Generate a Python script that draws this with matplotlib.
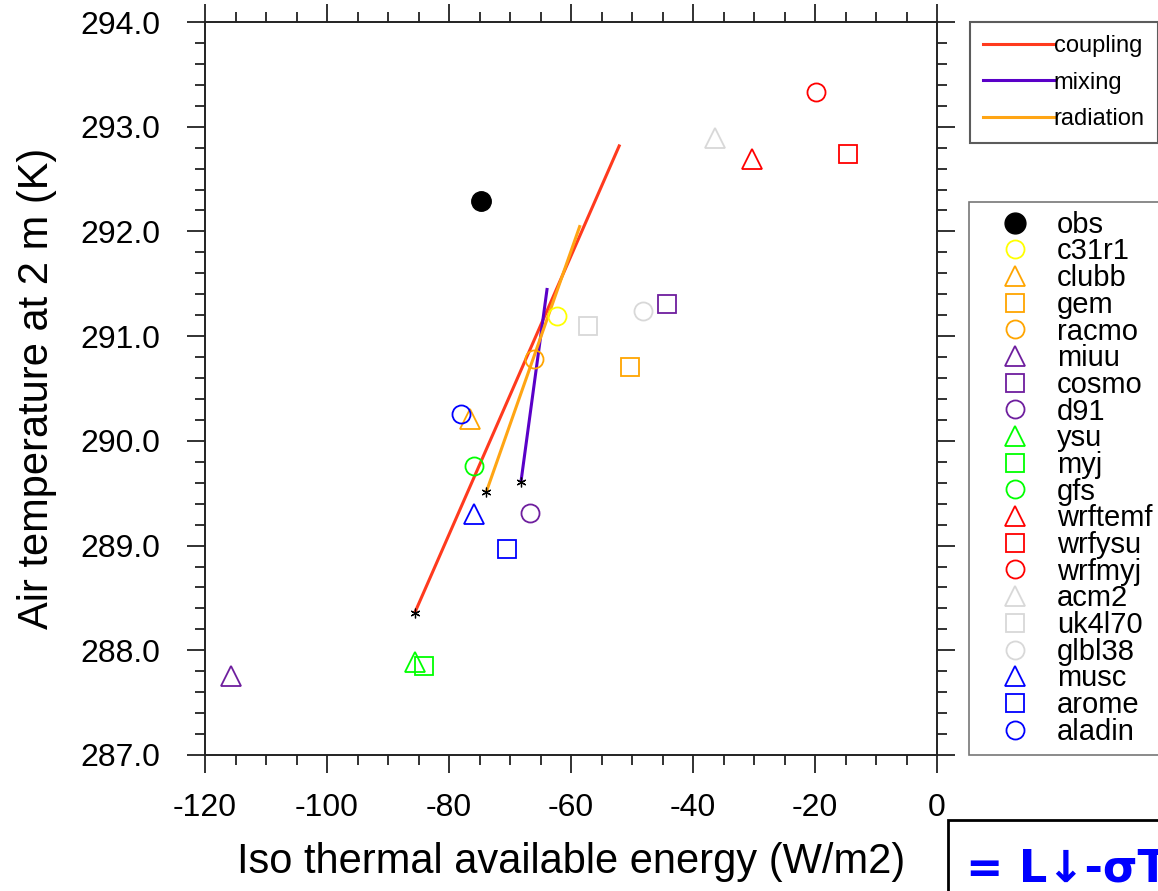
import matplotlib
matplotlib.use("Agg")
import matplotlib.pyplot as plt
from matplotlib.lines import Line2D
from matplotlib.patches import Rectangle

plt.rcParams['font.family'] = ['Liberation Sans', 'DejaVu Sans']

# ---- data ----
models = ["obs", "c31r1", "clubb", "gem", "racmo", "miuu", "cosmo", "d91",
          "ysu", "myj", "gfs", "wrftemf", "wrfysu", "wrfmyj", "acm2",
          "uk4l70", "glbl38", "musc", "arome", "aladin"]
ite_values = [-74.8, -62.3, -76.6, -50.3, -66.1, -115.7, -44.3, -66.7,
              -85.6, -84.1, -75.9, -30.3, -14.6, -19.8, -36.4,
              -57.2, -48.2, -75.9, -70.5, -78.0]
t2m_values = [292.29, 291.19, 290.21, 290.71, 290.78, 287.75, 291.31, 289.31,
              287.89, 287.85, 289.76, 292.69, 292.74, 293.33, 292.89,
              291.10, 291.24, 289.30, 288.97, 290.26]

fit_names = ["coupling", "mixing", "radiation"]
fit_x_start = [-85.6, -68.2, -73.9]
fit_x_end = [-52.0, -63.9, -58.5]
fit_y_start = [288.36, 289.61, 289.51]
fit_y_end = [292.83, 291.46, 292.06]

x_ticks = [-120, -100, -80, -60, -40, -20, 0]
x_tick_labels = ["-120", "-100", "-80", "-60", "-40", "-20", "0"]
y_ticks = [287, 288, 289, 290, 291, 292, 293, 294]
y_tick_labels = ["287.0", "288.0", "289.0", "290.0", "291.0", "292.0", "293.0", "294.0"]

# ---- styles ----
purple = "#6E1E9E"
gray = "#D8D8D8"
model_colors = ["black", "#FFFF00", "#FFA500", "#FFA500", "#FFA500",
                purple, purple, purple, "#00FF00", "#00FF00", "#00FF00",
                "#FF0000", "#FF0000", "#FF0000", gray, gray, gray,
                "#0000FF", "#0000FF", "#0000FF"]
model_markers = ["o", "o", "^", "s", "o", "^", "s", "o", "^", "s", "o",
                 "^", "s", "o", "^", "s", "o", "^", "s", "o"]
fit_colors = ["#FF3A1E", "#5A00C8", "#FFA514"]

W, H = 1158, 891
fig = plt.figure(figsize=(W / 100, H / 100), dpi=100)
ax = fig.add_axes([205 / W, 1 - 755 / H, 732 / W, 733 / H])

# fit lines
for name, x0, x1, y0, y1, c in zip(fit_names, fit_x_start, fit_x_end,
                                   fit_y_start, fit_y_end, fit_colors):
    ax.plot([x0, x1], [y0, y1], color=c, lw=2.2, solid_capstyle='butt', zorder=2)
    ax.plot([x0], [y0], marker=(6, 2, 0), color='black', ms=7, mew=0.9, zorder=4)

# model points
handles = []
for name, x, y, c, m in zip(models, ite_values, t2m_values, model_colors, model_markers):
    if name == "obs":
        ax.plot([x], [y], marker=m, ms=14, color=c, ls='none', zorder=3)
        h = Line2D([], [], marker=m, ms=15, color=c, ls='none')
    else:
        ms = 13 if m == "o" else (14 if m == "^" else 13)
        ax.plot([x], [y], marker=m, ms=ms, mfc='none', mec=c, mew=1.3,
                ls='none', zorder=3)
        h = Line2D([], [], marker=m, ms=ms, mfc='none', mec=c, mew=1.3, ls='none')
    handles.append(h)

ax.set_xlim(-120, 0)
ax.set_ylim(287, 294)
ax.set_xticks(x_ticks)
ax.set_xticklabels(x_tick_labels)
ax.set_yticks(y_ticks)
ax.set_yticklabels(y_tick_labels)
ax.set_xticks([v for v in range(-120, 1, 5) if v % 20 != 0], minor=True)
ax.set_yticks([287 + 0.2 * i for i in range(36) if i % 5 != 0], minor=True)
ax.tick_params(which='both', direction='out', top=True, right=True, width=1.3,
               colors='#222222')
ax.tick_params(which='major', length=13)
ax.tick_params(which='minor', length=7)
ax.tick_params(axis='x', which='major', labelsize=23, pad=14, labelcolor='black')
ax.tick_params(axis='y', which='major', labelsize=23, pad=19, labelcolor='black')
for s in ax.spines.values():
    s.set_linewidth(1.4)
    s.set_color('#222222')

ax.set_xlabel("Iso thermal available energy (W/m2)", fontsize=30, labelpad=14)
ax.set_ylabel("Air temperature at 2 m (K)", fontsize=30, labelpad=17)

# legend for fits
fit_handles = [Line2D([], [], color=c, lw=2.2) for c in fit_colors]
leg1 = fig.legend(fit_handles, fit_names, loc='upper left',
                  bbox_to_anchor=(970 / W, 1 - 22 / H), fontsize=17,
                  frameon=True, fancybox=False, edgecolor='#333333',
                  borderaxespad=0, borderpad=0.55, handlelength=3.0,
                  handletextpad=0.0, labelspacing=0.62)
leg1.get_frame().set_linewidth(1.5)

# legend for models
leg2 = fig.legend(handles, models, loc='upper left',
                  bbox_to_anchor=(969 / W, 1 - 202 / H), fontsize=21,
                  frameon=True, fancybox=False, edgecolor='#555555',
                  borderaxespad=0, borderpad=0.3, handlelength=2.55,
                  handletextpad=0.17, labelspacing=-0.045)
leg2.get_frame().set_linewidth(1.2)

# formula box bottom right
fig.add_artist(Rectangle((948 / W, -0.1), 0.5, 0.1 + (891 - 820) / H,
                         transform=fig.transFigure, fill=False,
                         edgecolor='black', lw=2, clip_on=False))
fig.text(966 / W, (891 - 882) / H, "= L\u2193-\u03c3T\u2074", color='#0000FF',
         fontsize=32, fontweight='bold', family='DejaVu Sans', va='baseline')

fig.savefig("out.png", dpi=100)
